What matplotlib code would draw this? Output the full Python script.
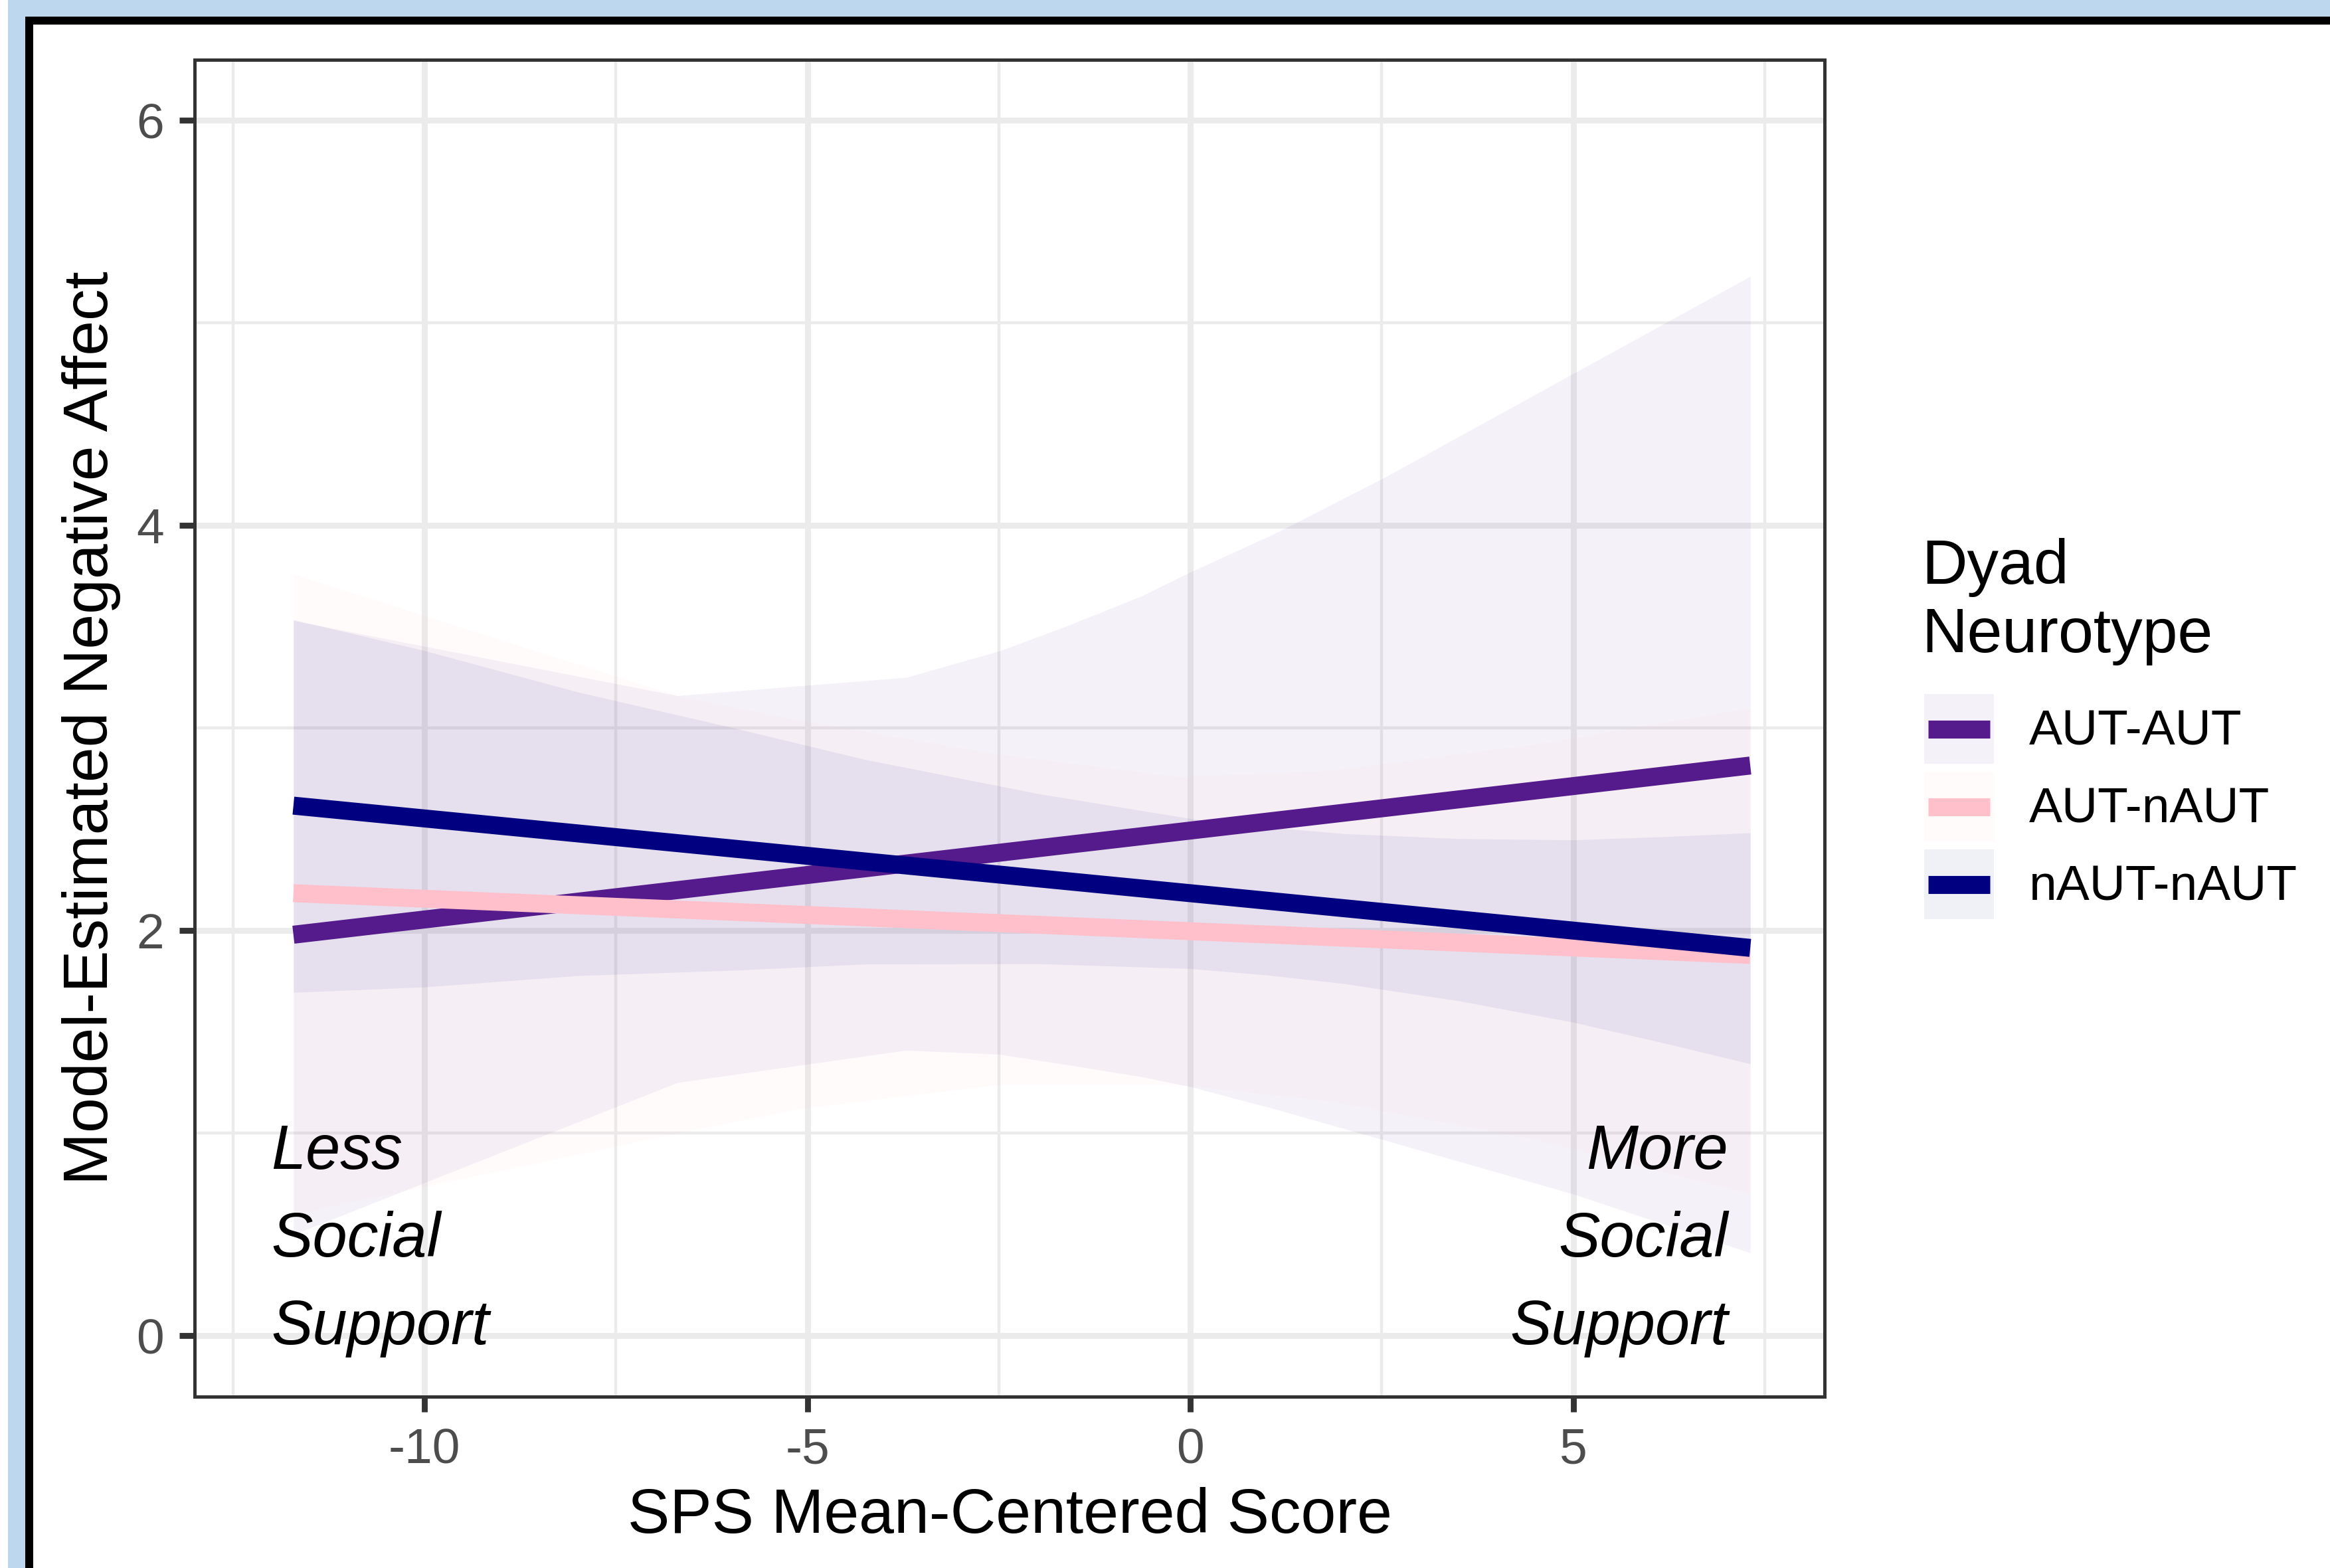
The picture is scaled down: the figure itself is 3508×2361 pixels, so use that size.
import matplotlib
matplotlib.use('Agg')
import matplotlib.pyplot as plt
from matplotlib.patches import Rectangle, Patch
from matplotlib.lines import Line2D

plt.rcParams['font.family'] = ['Liberation Sans', 'DejaVu Sans']
plt.rcParams['axes.unicode_minus'] = False

# ---------------- data ----------------
groups = ['AUT-AUT', 'AUT-nAUT', 'nAUT-nAUT']
colors = ['#551A8B', '#FFC0CB', '#000080']

line_x = [-11.71, 7.31]
aut_aut_y = [1.98, 2.815]
aut_naut_y = [2.185, 1.88]
naut_naut_y = [2.617, 1.915]

aut_aut_ci_x = [-11.71, -6.7, -3.71, -2.5, -1.64, -0.65, 0.0, 1.1, 2.5, 5.0, 7.31]
aut_aut_lo = [0.50, 1.25, 1.41, 1.39, 1.34, 1.28, 1.23, 1.12, 0.97, 0.70, 0.41]
aut_aut_hi = [3.53, 3.16, 3.25, 3.38, 3.50, 3.65, 3.77, 3.96, 4.23, 4.75, 5.23]

aut_naut_ci_x = [-11.71, -6.7, -5.12, -2.5, -0.15, 1.8, 4.5, 7.31]
aut_naut_lo = [0.60, 1.00, 1.12, 1.24, 1.24, 1.16, 0.97, 0.70]
aut_naut_hi = [3.76, 3.16, 3.04, 2.87, 2.76, 2.79, 2.92, 3.10]

naut_naut_ci_x = [-11.71, -10.0, -8.0, -6.0, -4.25, -2.0, 0.0, 1.0, 2.0, 3.5, 5.0, 6.2, 7.31]
naut_naut_lo = [1.695, 1.722, 1.778, 1.804, 1.835, 1.837, 1.813, 1.781, 1.739, 1.654,
                1.548, 1.444, 1.343]
naut_naut_hi = [3.535, 3.382, 3.178, 3.004, 2.845, 2.677, 2.553, 2.511, 2.479, 2.454,
                2.448, 2.464, 2.483]

x_ticks = [-10, -5, 0, 5]
x_tick_labels = ['-10', '-5', '0', '5']
x_minor = [-12.5, -7.5, -2.5, 2.5, 7.5]
y_ticks = [0, 2, 4, 6]
y_tick_labels = ['0', '2', '4', '6']
y_minor = [1, 3, 5]

annot_left = ['Less', 'Social', 'Support']
annot_right = ['More', 'Social', 'Support']
annot_y = [0.825, 0.39, -0.04]
annot_left_x = -12.0
annot_right_x = 7.02

x_label = 'SPS Mean-Centered Score'
y_label = 'Model-Estimated Negative Affect'
legend_title = ['Dyad', 'Neurotype']

# ---------------- figure ----------------
W, H = 3508, 2361
fig = plt.figure(figsize=(W / 300, H / 300), dpi=300, facecolor='white')

# frame of the screenshot
fig.patches.append(Rectangle((12 / W, 0), 1, 1, transform=fig.transFigure,
                             facecolor='#BDD7EE', edgecolor='none', zorder=-3))
fig.patches.append(Rectangle((38 / W, 0), 1, 1 - 25 / H, transform=fig.transFigure,
                             facecolor='black', edgecolor='none', zorder=-2))
fig.patches.append(Rectangle((50 / W, 0), 1, 1 - 37 / H, transform=fig.transFigure,
                             facecolor='white', edgecolor='none', zorder=-1))

left, right, top, bottom = 293 / W, 2747 / W, 1 - 89.5 / H, 1 - 2103 / H
ax = fig.add_axes([left, bottom, right - left, top - bottom])
ax.set_facecolor('white')

alpha = 0.06
ribbons = [(aut_aut_ci_x, aut_aut_lo, aut_aut_hi),
           (aut_naut_ci_x, aut_naut_lo, aut_naut_hi),
           (naut_naut_ci_x, naut_naut_lo, naut_naut_hi)]
for (rx, lo, hi), c in zip(ribbons, colors):
    ax.fill_between(rx, lo, hi, color=c, alpha=alpha, linewidth=0, zorder=1)

lines = [aut_aut_y, aut_naut_y, naut_naut_y]
for ly, c in zip(lines, colors):
    ax.plot(line_x, ly, color=c, lw=6.5, solid_capstyle='butt', zorder=2)

title_fs = 22.8
for t, yy in zip(annot_left, annot_y):
    ax.text(annot_left_x, yy, t, fontsize=22.5, style='italic', ha='left',
            va='baseline', color='black', zorder=3)
for t, yy in zip(annot_right, annot_y):
    ax.text(annot_right_x, yy, t, fontsize=22.5, style='italic', ha='right',
            va='baseline', color='black', zorder=3)

ax.set_xlim(-13.0, 8.28)
ax.set_ylim(-0.3, 6.3)
ax.set_xticks(x_ticks)
ax.set_xticklabels(x_tick_labels)
ax.set_xticks(x_minor, minor=True)
ax.set_yticks(y_ticks)
ax.set_yticklabels(y_tick_labels)
ax.set_yticks(y_minor, minor=True)

ax.set_axisbelow(True)
ax.grid(which='major', color='#EBEBEB', lw=2.13)
ax.grid(which='minor', color='#EBEBEB', lw=1.07)
ax.tick_params(which='major', length=5.6, width=2.13, color='#333333',
               labelcolor='#4D4D4D', labelsize=18, pad=5.5)
ax.tick_params(which='minor', length=0)
for s in ax.spines.values():
    s.set_color('#333333')
    s.set_linewidth(1.2)
    s.set_zorder(4)

ax.set_xlabel(x_label, fontsize=title_fs, color='black', labelpad=5.0)
ax.set_ylabel(y_label, fontsize=title_fs, color='black', labelpad=5.5)


# legend with ggplot-like keys (ribbon-filled square + centred line)
class KeyHandler:
    def __init__(self, color):
        self.color = color

    def legend_artist(self, legend, orig_handle, fontsize, handlebox):
        x0, y0 = -handlebox.xdescent, -handlebox.ydescent
        w, h = handlebox.width, handlebox.height
        rect = Rectangle((x0, y0), w, h, facecolor=self.color, alpha=alpha,
                         edgecolor='none', transform=handlebox.get_transform())
        inset = 1.4
        ln = Line2D([x0 + inset, x0 + w - inset], [y0 + h / 2, y0 + h / 2],
                    color=self.color, lw=6.5, solid_capstyle='butt',
                    transform=handlebox.get_transform())
        handlebox.add_artist(rect)
        handlebox.add_artist(ln)
        return rect


handles = [Patch(facecolor=c) for c in colors]
hmap = {h: KeyHandler(c) for h, c in zip(handles, colors)}
leg = fig.legend(handles, groups, handler_map=hmap,
                 loc='upper left', bbox_to_anchor=(2897 / W, 1 - 1045 / H),
                 bbox_transform=fig.transFigure, frameon=False, fontsize=18,
                 handlelength=1.4, handleheight=1.777, labelspacing=0.16,
                 handletextpad=0.7, borderpad=0, borderaxespad=0)
fig.text(2893 / W, 1 - 879 / H, legend_title[0], fontsize=title_fs, ha='left', va='baseline')
fig.text(2893 / W, 1 - 982 / H, legend_title[1], fontsize=title_fs, ha='left', va='baseline')

fig.savefig('out.png', dpi=300, facecolor='white')
